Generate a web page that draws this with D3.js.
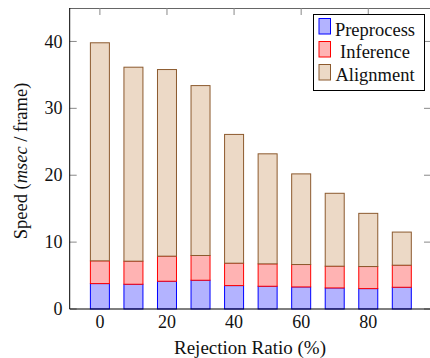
<!DOCTYPE html>
<html><head><meta charset="utf-8">
<script src="https://cdn.jsdelivr.net/npm/d3@7"></script>
</head><body style="margin:0">
<script>
const ratios = [0,10,20,30,40,50,60,70,80,90];
const preprocess = [3.8,3.7,4.15,4.3,3.5,3.4,3.3,3.15,3.05,3.25];
const inference = [3.4,3.45,3.75,3.7,3.35,3.35,3.35,3.25,3.3,3.3];
const alignment = [32.6,29.0,27.9,25.4,19.25,16.45,13.55,10.9,7.95,4.95];
const xTicks = [0,20,40,60,80];
const yTicks = [0,10,20,30,40];
const seriesNames = ["Preprocess","Inference","Alignment"];

const W=430,H=358;
const L=69.7,R=432,T=8,B=309;
const FONT="Times New Roman";
const svg=d3.select("body").append("svg").attr("width",W).attr("height",H);
const x=d3.scaleLinear().domain([-9,99]).range([L,R]);
const y=d3.scaleLinear().domain([0,45]).range([B,T]);
const barW=19;
const styles=[{fill:"#b3b3ff",stroke:"#0000ff"},{fill:"#ffb3b3",stroke:"#ff0000"},{fill:"#ecd9c6",stroke:"#8c5a2e"}];

svg.append("line").attr("x1",L).attr("x2",R).attr("y1",T+0.5).attr("y2",T+0.5).attr("stroke","#666");
svg.append("line").attr("x1",R).attr("x2",R).attr("y1",T).attr("y2",B).attr("stroke","#666");

const tk=svg.append("g").attr("stroke","#888").attr("stroke-width",1);
xTicks.forEach(v=>{
  tk.append("line").attr("x1",x(v)).attr("x2",x(v)).attr("y1",T).attr("y2",T+7);
  tk.append("line").attr("x1",x(v)).attr("x2",x(v)).attr("y1",B).attr("y2",B-7);
});
yTicks.forEach(v=>{
  tk.append("line").attr("x1",L).attr("x2",L+7).attr("y1",y(v)).attr("y2",y(v));
  tk.append("line").attr("x1",R).attr("x2",R-8).attr("y1",y(v)).attr("y2",y(v));
});

const stackData=ratios.map((r,i)=>({r,Preprocess:preprocess[i],Inference:inference[i],Alignment:alignment[i]}));
const stack=d3.stack().keys(seriesNames)(stackData);
stack.forEach((s,k)=>{
  svg.append("g").selectAll("rect").data(s).join("rect")
    .attr("x",d=>x(d.data.r)-barW/2).attr("width",barW)
    .attr("y",d=>y(d[1])).attr("height",d=>y(d[0])-y(d[1]))
    .attr("fill",styles[k].fill).attr("stroke",styles[k].stroke).attr("stroke-width",1);
});

svg.append("line").attr("x1",L).attr("x2",L).attr("y1",T).attr("y2",B).attr("stroke","#000");
svg.append("line").attr("x1",L).attr("x2",R).attr("y1",B).attr("y2",B).attr("stroke","#000");

function txt(sel,size){ return sel.attr("font-family",FONT).style("font-family",FONT).attr("font-size",size).style("font-size",size+"px").attr("fill","#111"); }

txt(svg.append("g").selectAll("text").data(xTicks).join("text"),18)
  .attr("x",d=>x(d)).attr("y",328).attr("text-anchor","middle").text(d=>d);
txt(svg.append("g").selectAll("text").data(yTicks).join("text"),18)
  .attr("x",62.5).attr("y",d=>y(d)).attr("dy","0.34em").attr("text-anchor","end").text(d=>d);

txt(svg.append("text"),19).attr("x",250).attr("y",354).attr("text-anchor","middle").text("Rejection Ratio (%)");
const yl=txt(svg.append("text"),18.5).attr("transform","translate(26.5,161) rotate(-90)").attr("text-anchor","middle");
yl.append("tspan").text("Speed (");
yl.append("tspan").attr("font-style","italic").text("msec");
yl.append("tspan").text(" / frame)");

const lg=svg.append("g");
lg.append("rect").attr("x",313.5).attr("y",14.5).attr("width",111).attr("height",76).attr("fill","#fff").attr("stroke","#000");
seriesNames.forEach((n,i)=>{
  lg.append("rect").attr("x",319).attr("y",18.5+i*23).attr("width",11.5).attr("height",15.5)
    .attr("fill",styles[i].fill).attr("stroke",styles[i].stroke);
  txt(lg.append("text"),18.5).attr("x",375).attr("y",35.5+i*22.5).attr("text-anchor","middle").text(n);
});
</script>
</body></html>
